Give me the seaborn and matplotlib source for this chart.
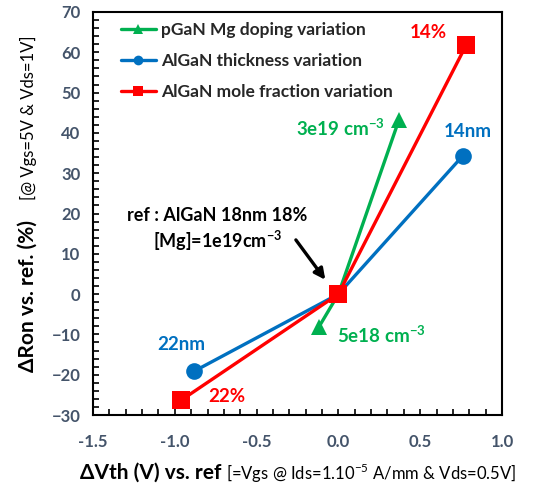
import numpy as np
import pandas as pd
import matplotlib
matplotlib.use("Agg")
import matplotlib.pyplot as plt
from matplotlib.ticker import MultipleLocator
import seaborn as sns

# data
mg_x = [-0.12, 0.0, 0.37]
mg_y = [-8.2, 0.0, 43.2]
thk_x = [-0.88, 0.0, 0.76]
thk_y = [-19.1, 0.0, 34.3]
mole_x = [-0.96, 0.0, 0.78]
mole_y = [-26.3, 0.0, 61.7]
series_names = ["pGaN Mg doping variation", "AlGaN thickness variation",
                "AlGaN mole fraction variation"]

green = "#00B050"
blue = "#0070C0"
red = "#FF0000"
tick_col = "#44546A"

sns.set_theme(style="white")
plt.rcParams['font.family'] = ['Lato', 'DejaVu Sans']
plt.rcParams['mathtext.fontset'] = 'custom'
plt.rcParams['mathtext.rm'] = 'Lato'
plt.rcParams['mathtext.bf'] = 'Lato:bold'

fig = plt.figure(figsize=(5.43, 4.91), dpi=100)
ax = fig.add_axes([93 / 543, 1 - 415 / 491, 409 / 543, 403 / 491])

series = [
    (mg_x, mg_y, green, "^", 12),
    (thk_x, thk_y, blue, "o", 12),
    (mole_x, mole_y, red, "s", 13),
]
handles = []
for (xs, ys, col, mk, ms), name in zip(series, series_names):
    df = pd.DataFrame({"x": xs, "y": ys})
    sns.lineplot(data=df, x="x", y="y", ax=ax, color=col, lw=2.4,
                 marker=mk, markersize=ms, markeredgewidth=0, sort=False)
    h, = ax.plot([], [], color=col, lw=2.4, marker=mk, markersize=7,
                 markeredgewidth=0)
    handles.append(h)

leg = ax.legend(handles, series_names, loc="upper left", frameon=False,
                bbox_to_anchor=(0.068, 0.975), borderaxespad=0, borderpad=0,
                handlelength=2.0, handletextpad=0.3, labelspacing=0.85,
                prop={'weight': 'bold', 'size': 12.5,
                      'family': ['Lato', 'DejaVu Sans']})

ax.set_xlim(-1.5, 1.0)
ax.set_ylim(-30, 70)
ax.xaxis.set_major_locator(MultipleLocator(0.5))
ax.xaxis.set_minor_locator(MultipleLocator(0.1))
ax.yaxis.set_major_locator(MultipleLocator(10))
ax.yaxis.set_minor_locator(MultipleLocator(2))
ax.tick_params(which="both", direction="in", length=4, width=1.2, color="black",
               bottom=True, left=True)
ax.tick_params(which="major", labelsize=12, labelcolor=tick_col, pad=9)
ax.set_xticklabels([f"{v:.1f}" for v in ax.get_xticks()])
for lab in ax.get_xticklabels() + ax.get_yticklabels():
    lab.set_fontweight("bold")
ax.xaxis.set_tick_params(pad=14)
for sp in ax.spines.values():
    sp.set_color("black")
    sp.set_linewidth(1.5)
ax.set_xlabel("")
ax.set_ylabel("")

# annotations
ax.text(-0.74, 19.6, "ref : AlGaN 18nm 18%", ha="center", va="center",
        fontsize=13, fontweight="bold", color="black")
ax.text(-0.74, 13.2, r"[Mg]=1e19cm$^{\mathbf{-3}}$", ha="center", va="center",
        fontsize=13, fontweight="bold", color="black")
ax.annotate("", xy=(-0.07, 3.0), xytext=(-0.27, 14.0),
            arrowprops=dict(arrowstyle="-|>", color="black", lw=2.4, mutation_scale=16))
ax.text(0.01, 41.2, r"3e19 cm$^{\mathbf{-3}}$", ha="center", va="center",
        fontsize=13.5, fontweight="bold", color=green)
ax.text(0.26, -10.0, r"5e18 cm$^{\mathbf{-3}}$", ha="center", va="center",
        fontsize=13.5, fontweight="bold", color=green)
ax.text(0.79, 40.3, "14nm", ha="center", va="center", fontsize=13.5,
        fontweight="bold", color=blue)
ax.text(-0.96, -12.6, "22nm", ha="center", va="center", fontsize=13.5,
        fontweight="bold", color=blue)
ax.text(0.55, 64.8, "14%", ha="center", va="center", fontsize=13.5,
        fontweight="bold", color=red)
ax.text(-0.68, -25.5, "22%", ha="center", va="center", fontsize=13.5,
        fontweight="bold", color=red)

# axis titles, mixed weights
fig.text(80 / 543, 1 - 473 / 491, "ΔVth (V) vs. ref", ha="left", va="center",
         fontsize=15, fontweight="bold", color="black")
fig.text(226 / 543, 1 - 473 / 491, r"[=Vgs @ Ids=1.10$^{-5}$ A/mm & Vds=0.5V]",
         ha="left", va="center", fontsize=12, color="black")
fig.text(28 / 543, 1 - 372 / 491, "ΔRon vs. ref. (%)", ha="center", va="bottom",
         rotation=90, fontsize=15, fontweight="bold", color="black")
fig.text(28 / 543, 1 - 200 / 491, "[@ Vgs=5V & Vds=1V]", ha="center", va="bottom",
         rotation=90, fontsize=12, color="black")

fig.savefig("out.png", dpi=100)
